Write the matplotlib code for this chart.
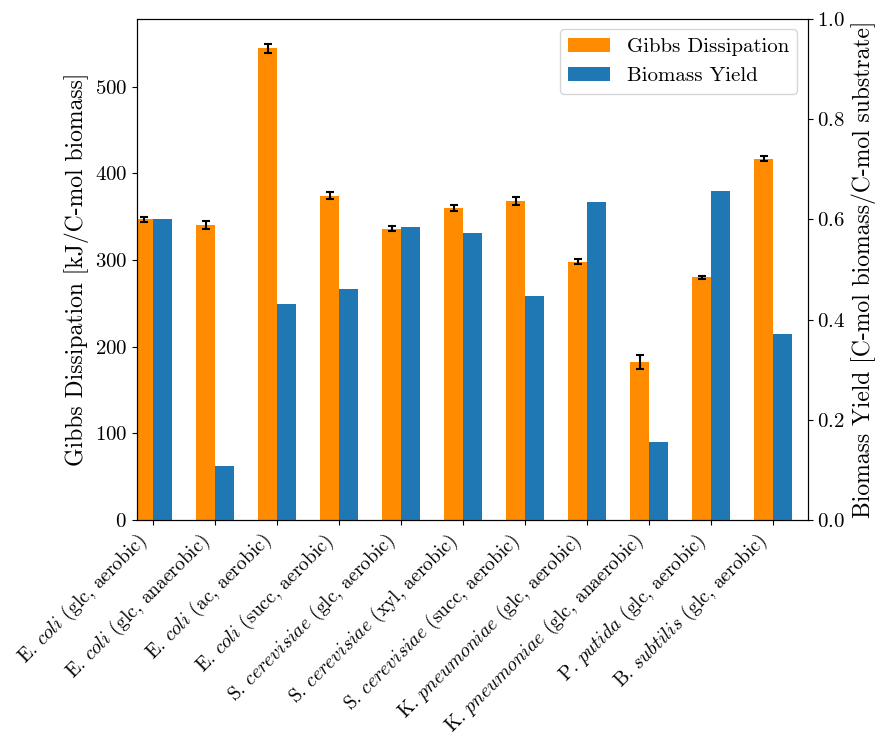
import matplotlib
matplotlib.use("Agg")
import matplotlib.pyplot as plt
import numpy as np

plt.rcParams['font.family'] = ['cmr10', 'DejaVu Serif']
plt.rcParams['mathtext.fontset'] = 'cm'
plt.rcParams['axes.formatter.use_mathtext'] = True
plt.rcParams['axes.unicode_minus'] = False

species = ["E.", "E.", "E.", "E.", "S.", "S.", "S.", "K.", "K.", "P.", "B."]
genus_rest = ["coli", "coli", "coli", "coli", "cerevisiae", "cerevisiae", "cerevisiae",
              "pneumoniae", "pneumoniae", "putida", "subtilis"]
conditions = ["(glc, aerobic)", "(glc, anaerobic)", "(ac, aerobic)", "(succ, aerobic)",
              "(glc, aerobic)", "(xyl, aerobic)", "(succ, aerobic)", "(glc, aerobic)",
              "(glc, anaerobic)", "(glc, aerobic)", "(glc, aerobic)"]

gibbs = [347, 340, 544, 374, 336, 360, 368, 298, 182, 280, 417]
gibbs_err = [3, 4.5, 5.5, 4, 3, 3, 4.5, 3, 8, 2, 3]
yield_ = [0.600, 0.108, 0.432, 0.461, 0.584, 0.572, 0.447, 0.634, 0.156, 0.656, 0.372]

labels = [f"{s} $\\mathit{{{g}}}$ {c}" for s, g, c in zip(species, genus_rest, conditions)]

fig = plt.figure(figsize=(8.77, 7.47), dpi=100)
ax = fig.add_axes([0.156, 0.304, 0.765, 0.6706])
ax2 = ax.twinx()

x = np.arange(len(labels))
w = 0.3
b1 = ax.bar(x - w / 2, gibbs, w, yerr=gibbs_err, color='#ff8c00', capsize=3,
            error_kw=dict(elinewidth=1.5, capthick=1.5, ecolor='black'),
            label='Gibbs Dissipation')
b2 = ax2.bar(x + w / 2, yield_, w, color='#1f77b4', label='Biomass Yield')

ax.set_xlim(-0.26, 10.56)
ax.set_ylim(0, 578)
ax2.set_ylim(0, 1.0)
ax.set_xticks(x)
ax.set_xticklabels(labels, rotation=45, ha='right', fontsize=14)
ax.tick_params(axis='y', labelsize=15)
ax2.tick_params(axis='y', labelsize=15)
ax.set_ylabel('Gibbs Dissipation [kJ/C-mol biomass]', fontsize=17)
ax2.set_ylabel('Biomass Yield [C-mol biomass/C-mol substrate]', fontsize=17)

ax.legend([b1, b2], ['Gibbs Dissipation', 'Biomass Yield'], loc='upper right', fontsize=15)

fig.savefig('out.png', dpi=100)
